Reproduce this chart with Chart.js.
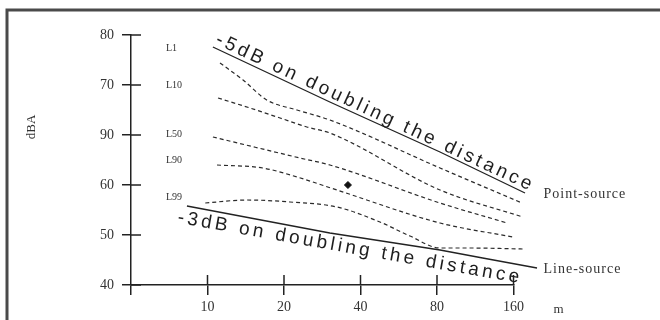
<!DOCTYPE html>
<html>
<head>
<meta charset="utf-8">
<script src="https://cdn.jsdelivr.net/npm/chart.js@4"></script>
<style>
  html, body { margin: 0; padding: 0; background: #fff; }
  #wrap { width: 660px; height: 320px; }
</style>
</head>
<body>
<div id="wrap"><canvas id="noise" width="660" height="320"></canvas></div>
<script>
// noise levels vs distance (x log, base 2 spacing)
const xTickValues = [5, 10, 20, 40, 80, 160];
const xTickLabels = ['', '10', '20', '40', '80', '160'];
const yTickLabels = ['40', '50', '60', '90', '70', '80']; // as printed, bottom to top

const pointSourceDist  = [10.5, 30.3, 82.2, 177.6];
const pointSourceLevel = [87.6, 76.6, 66.6, 58.4];
const lineSourceDist   = [8.3, 30.3, 82.2, 121, 198];
const lineSourceLevel  = [55.8, 50.4, 47.0, 45.4, 43.4];

const l1Dist   = [11.2, 13.8, 17.1, 22.5, 30.3, 82.2, 172.8];
const l1Level  = [84.4, 81.0, 77.0, 75.0, 73.0, 63.4, 56.4];
const l10Dist  = [11.0, 14.7, 19.3, 24.6, 30.3, 82.2, 174];
const l10Level = [77.4, 75.4, 73.4, 71.6, 70.4, 59.0, 53.6];
const l50Dist  = [10.5, 17.1, 23.1, 30.3, 82.2, 150.9];
const l50Level = [69.6, 67.0, 65.4, 64.0, 56.4, 52.4];
const l90Dist  = [10.9, 16.5, 22.5, 32.3, 82.2, 159];
const l90Level = [64.0, 63.4, 61.6, 59.0, 52.4, 49.6];
const l99Dist  = [9.8, 14.3, 21.1, 32.3, 47.7, 62.6, 82.2, 107.9, 174];
const l99Level = [56.4, 57.0, 56.6, 55.6, 52.6, 49.8, 47.4, 47.4, 47.2];

const percentileNames  = ['L1', 'L10', 'L50', 'L90', 'L99'];
const percentileLabelAt = [87.4, 80.0, 70.2, 65.0, 57.6];

const markDist  = [35.7];
const markLevel = [60.0];

const INK = '#222';
const SERIF = "'Liberation Serif', 'DejaVu Serif', serif";
const SANS = "'Liberation Sans', Arial, sans-serif";

const toPoints = (xs, ys) => xs.map((x, i) => ({ x: x, y: ys[i] }));

function solid(label, xs, ys) {
  return { label: label, data: toPoints(xs, ys), showLine: true, borderColor: INK, borderWidth: 1.3,
           pointRadius: 0, tension: 0, clip: false };
}
function dashed(label, xs, ys) {
  return { label: label, data: toPoints(xs, ys), showLine: true, borderColor: '#2a2a2a', borderWidth: 1.2,
           borderDash: [4, 3], pointRadius: 0, cubicInterpolationMode: 'monotone', clip: false };
}

function line(ctx, x1, y1, x2, y2) {
  ctx.beginPath(); ctx.moveTo(x1, y1); ctx.lineTo(x2, y2); ctx.stroke();
}

function slopeText(ctx, text, a, b, dx, dy) {
  const ang = Math.atan2(b.y - a.y, b.x - a.x);
  ctx.save();
  ctx.translate(a.x, a.y);
  ctx.rotate(ang);
  ctx.fillText(text, dx, dy);
  ctx.restore();
}

const annotations = {
  id: 'annotations',
  afterDraw(chart) {
    const { ctx, chartArea } = chart;
    const xs = chart.scales.x, ys = chart.scales.y;
    const px = (d, v) => ({ x: xs.getPixelForValue(d), y: ys.getPixelForValue(v) });
    ctx.save();

    // scanned frame
    ctx.strokeStyle = '#4a4a4a';
    ctx.lineWidth = 3;
    ctx.beginPath(); ctx.moveTo(7, 320); ctx.lineTo(7, 10); ctx.lineTo(660, 10); ctx.stroke();

    // inner halves of the crossing ticks
    ctx.strokeStyle = INK;
    ctx.lineWidth = 1.5;
    xTickValues.slice(1).forEach(d => {
      const xp = xs.getPixelForValue(d);
      line(ctx, xp, chartArea.bottom - 10, xp, chartArea.bottom);
    });
    ys.ticks.forEach(t => {
      const yp = ys.getPixelForValue(t.value);
      line(ctx, chartArea.left, yp, chartArea.left + 10, yp);
    });

    ctx.fillStyle = '#333';

    // axis title
    ctx.save();
    ctx.font = '13px ' + SERIF;
    ctx.textAlign = 'center';
    ctx.textBaseline = 'middle';
    ctx.translate(32, 127);
    ctx.rotate(-Math.PI / 2);
    ctx.fillText('dBA', 0, 0);
    ctx.restore();

    // unit
    ctx.font = '13px ' + SERIF;
    ctx.textBaseline = 'middle';
    ctx.textAlign = 'left';
    ctx.fillText('m', chartArea.right + 40, 310);

    // percentile labels
    ctx.font = '10px ' + SERIF;
    percentileNames.forEach((n, i) => {
      ctx.fillText(n, chartArea.left + 35, ys.getPixelForValue(percentileLabelAt[i]));
    });

    // source labels
    ctx.font = '14px ' + SERIF;
    ctx.letterSpacing = '1px';
    const ps = px(pointSourceDist[pointSourceDist.length - 1], pointSourceLevel[pointSourceLevel.length - 1]);
    ctx.fillText('Point-source', chartArea.right + 30, ps.y + 1);
    const ls = px(lineSourceDist[lineSourceDist.length - 1], lineSourceLevel[lineSourceLevel.length - 1]);
    ctx.fillText('Line-source', chartArea.right + 30, ls.y + 1);

    // sloped captions
    ctx.font = '19px ' + SANS;
    ctx.letterSpacing = '3.4px';
    ctx.textBaseline = 'alphabetic';
    ctx.fillStyle = '#1e1e1e';
    slopeText(ctx, '-5dB on doubling the distance',
      px(pointSourceDist[0], pointSourceLevel[0]),
      px(pointSourceDist[pointSourceDist.length - 1], pointSourceLevel[pointSourceLevel.length - 1]), 0, -4);
    slopeText(ctx, '-3dB on doubling the distance',
      px(lineSourceDist[0], lineSourceLevel[0]),
      px(lineSourceDist[lineSourceDist.length - 1], lineSourceLevel[lineSourceLevel.length - 1]), -7, 18);

    ctx.restore();
  }
};

new Chart(document.getElementById('noise').getContext('2d'), {
  type: 'scatter',
  data: {
    datasets: [
      solid('Point-source', pointSourceDist, pointSourceLevel),
      solid('Line-source', lineSourceDist, lineSourceLevel),
      dashed('L1', l1Dist, l1Level),
      dashed('L10', l10Dist, l10Level),
      dashed('L50', l50Dist, l50Level),
      dashed('L90', l90Dist, l90Level),
      dashed('L99', l99Dist, l99Level),
      { label: 'mark', data: toPoints(markDist, markLevel), pointStyle: 'rectRot', pointRadius: 3.5,
        backgroundColor: '#111', borderColor: '#111', clip: false }
    ]
  },
  options: {
    responsive: false,
    devicePixelRatio: 1,
    animation: false,
    layout: { padding: { left: 0, right: 146.5, top: 35, bottom: 0 } },
    plugins: { legend: { display: false }, tooltip: { enabled: false } },
    scales: {
      x: {
        type: 'logarithmic',
        min: 5, max: 160,
        afterBuildTicks: s => { s.ticks = xTickValues.map(v => ({ value: v })); },
        afterFit: s => { s.height = 35; },
        border: { display: true, color: INK, width: 1.5 },
        grid: { display: true, drawOnChartArea: false, drawTicks: true, tickLength: 10, color: INK, lineWidth: 1.5 },
        ticks: { callback: (v, i) => xTickLabels[i], color: '#333', padding: 4, maxRotation: 0, autoSkip: false,
                 font: { family: SERIF, size: 14 } }
      },
      y: {
        min: 40, max: 90,
        afterFit: s => { s.width = 131; },
        border: { display: true, color: INK, width: 1.5 },
        grid: { display: true, drawOnChartArea: false, drawTicks: true, tickLength: 9, color: INK, lineWidth: 1.5 },
        ticks: { stepSize: 10, callback: (v, i) => yTickLabels[i], color: '#333', padding: 8,
                 font: { family: SERIF, size: 14 } }
      }
    }
  },
  plugins: [annotations]
});
</script>
</body>
</html>
